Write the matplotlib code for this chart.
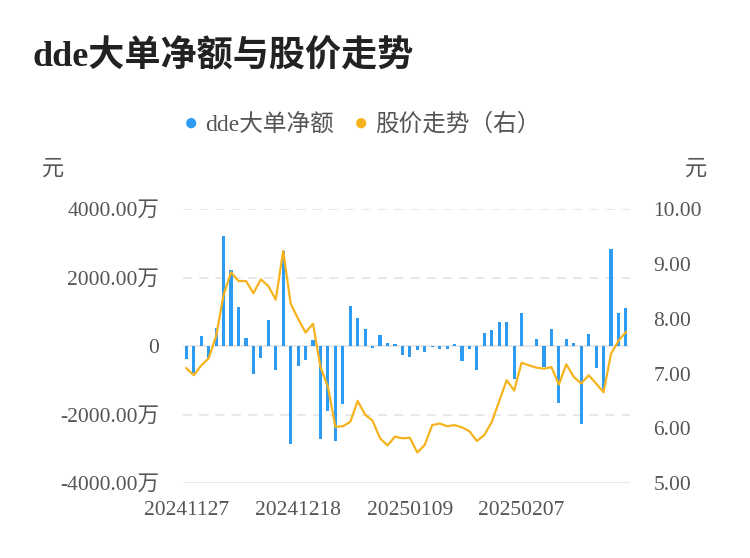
import numpy as np
import matplotlib.pyplot as plt

plt.rcParams['font.family'] = ['Liberation Serif', 'Noto Sans CJK SC', 'DejaVu Sans']

dates = ['20241127', '20241128', '20241129',
         '20241202', '20241203', '20241204', '20241205', '20241206',
         '20241209', '20241210', '20241211', '20241212', '20241213',
         '20241216', '20241217', '20241218', '20241219', '20241220',
         '20241223', '20241224', '20241225', '20241226', '20241227',
         '20241230', '20241231', '20250102', '20250103',
         '20250106', '20250107', '20250108', '20250109', '20250110',
         '20250113', '20250114', '20250115', '20250116', '20250117',
         '20250120', '20250121', '20250122', '20250123', '20250124',
         '20250127', '20250205', '20250206', '20250207',
         '20250210', '20250211', '20250212', '20250213', '20250214',
         '20250217', '20250218', '20250219', '20250220', '20250221',
         '20250224', '20250225', '20250226', '20250227']

# dde big order net amount, unit: 万元
dde_net = [-370, -790, 300, -345, 540, 3230, 2220, 1160, 245, -810,
           -355, 760, -690, 2780, -2840, -590, -395, 170, -2710, -1880,
           -2780, -1675, 1180, 810, 490, -50, 335, 80, 60, -255,
           -300, -100, -180, -20, -70, -70, 70, -420, -80, -690,
           385, 465, 710, 710, -965, 960, 0, 200, -620, 515,
           -1670, 220, 100, -2270, 370, -640, -1260, 2840, 965, 1130]

# closing price, unit: 元
price = [7.10, 6.97, 7.15, 7.28, 7.69, 8.44, 8.85, 8.69, 8.69, 8.47,
         8.72, 8.60, 8.35, 9.24, 8.28, 8.00, 7.75, 7.91, 7.12, 6.76,
         6.03, 6.04, 6.12, 6.50, 6.25, 6.14, 5.82, 5.69, 5.85, 5.82,
         5.83, 5.56, 5.70, 6.06, 6.09, 6.04, 6.06, 6.02, 5.95, 5.77,
         5.88, 6.12, 6.50, 6.88, 6.69, 7.20, 7.15, 7.11, 7.09, 7.12,
         6.80, 7.17, 6.94, 6.82, 6.97, 6.82, 6.66, 7.36, 7.60, 7.76]

left_ticks = [-4000, -2000, 0, 2000, 4000]
right_ticks = [5, 6, 7, 8, 9, 10]

blue = '#2d9cf2'
orange = '#f6b31e'
txt = '#555555'

fig = plt.figure(figsize=(7.5, 5.58), dpi=100)
ax = fig.add_axes([0.2435, 0.134, 0.596, 0.491])
ax2 = ax.twinx()

x = np.arange(len(dates))
ax.bar(x, dde_net, width=0.42, color=blue, zorder=3)
ax2.plot(x, price, color=orange, linewidth=1.6, zorder=4)

ax.set_xlim(-0.5, len(dates) - 0.5)
ax.set_ylim(-4000, 4000)
ax2.set_ylim(5, 10)

for v in left_ticks:
    if v in (0, -4000):
        ax.axhline(v, color='#e6e6e6', linewidth=1.3, zorder=1)
    else:
        ax.axhline(v, color='#e6e6e6', linewidth=1.3, linestyle=(0, (5, 4)), zorder=1)

ax.set_yticks(left_ticks)
ax.set_yticklabels(['0' if v == 0 else '%.2f万' % v for v in left_ticks])
ax2.set_yticks(right_ticks)
ax2.set_yticklabels(['%.2f' % v for v in right_ticks])
ax.set_xticks(x[::15])
ax.set_xticklabels([dates[i] for i in x[::15]])

for a in (ax, ax2):
    for s in a.spines.values():
        s.set_visible(False)
    a.tick_params(length=0, labelsize=15.5, colors=txt)
ax.tick_params(axis='y', pad=17)
ax.tick_params(axis='x', pad=13)
ax2.tick_params(axis='y', pad=17)
ax2.set_zorder(ax.get_zorder() + 1)
ax2.patch.set_visible(False)

fig.text(0.044, 0.898, 'dde大单净额与股价走势', fontsize=26, fontweight='bold',
         color='#222222', va='center', ha='left')

# legend
fig.text(0.255, 0.777, '●', fontsize=17, color=blue, va='center', ha='center')
fig.text(0.273, 0.777, 'dde大单净额', fontsize=17, color=txt, va='center', ha='left')
fig.text(0.482, 0.777, '●', fontsize=17, color=orange, va='center', ha='center')
fig.text(0.500, 0.777, '股价走势（右）', fontsize=17, color=txt, va='center', ha='left')

fig.text(0.071, 0.695, '元', fontsize=16, color=txt, va='center', ha='center')
fig.text(0.928, 0.695, '元', fontsize=16, color=txt, va='center', ha='center')

fig.savefig('out.png', dpi=100)
